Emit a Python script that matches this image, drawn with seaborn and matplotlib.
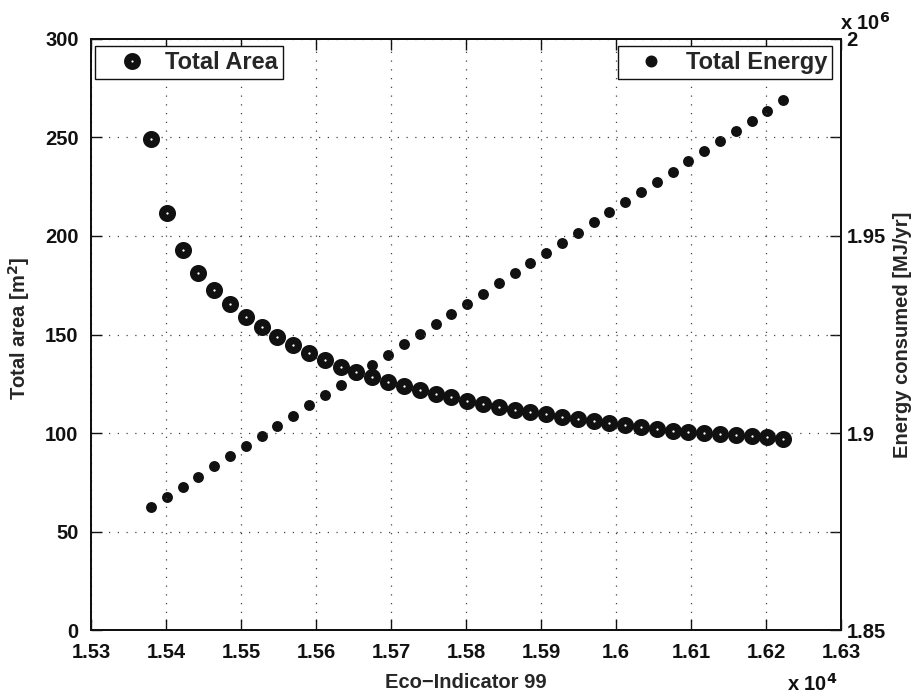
import matplotlib
matplotlib.use("Agg")
import matplotlib.pyplot as plt
from matplotlib.lines import Line2D
from matplotlib.ticker import FixedLocator, FuncFormatter
import seaborn as sns
import pandas as pd

# Eco-Indicator 99 score of each Pareto solution
eco_indicator = [15380.0, 15401.1, 15422.2, 15443.2, 15464.3, 15485.4, 15506.5,
                 15527.5, 15548.6, 15569.7, 15590.8, 15611.8, 15632.9, 15654.0,
                 15675.1, 15696.1, 15717.2, 15738.3, 15759.4, 15780.4, 15801.5,
                 15822.6, 15843.7, 15864.7, 15885.8, 15906.9, 15928.0, 15949.0,
                 15970.1, 15991.2, 16012.3, 16033.3, 16054.4, 16075.5, 16096.6,
                 16117.6, 16138.7, 16159.8, 16180.9, 16201.9, 16223.0]

# Total heat-exchange area [m2]
total_area = [249.1, 211.5, 192.9, 181.1, 172.6, 165.5, 159.0, 153.7, 148.9,
              144.5, 140.8, 137.1, 133.7, 131.1, 128.3, 125.7, 123.7, 121.7,
              119.8, 118.1, 116.2, 114.9, 113.4, 111.8, 110.7, 109.5, 108.3,
              107.1, 105.9, 104.9, 104.0, 102.8, 101.9, 101.2, 100.5, 100.2,
              99.7, 99.0, 98.5, 97.8, 96.9]

# Total energy consumed [MJ/yr]
total_energy = [1881200, 1883780, 1886360, 1888940, 1891520, 1894100, 1896680,
                1899260, 1901840, 1904420, 1907000, 1909580, 1912160, 1914740,
                1917320, 1919900, 1922480, 1925060, 1927640, 1930220, 1932800,
                1935380, 1937960, 1940540, 1943120, 1945700, 1948280, 1950860,
                1953440, 1956020, 1958600, 1961180, 1963760, 1966340, 1968920,
                1971500, 1974080, 1976660, 1979240, 1981820, 1984400]

x_ticks = [15300, 15400, 15500, 15600, 15700, 15800, 15900, 16000, 16100, 16200, 16300]
area_ticks = [0, 50, 100, 150, 200, 250, 300]
energy_ticks = [1850000, 1875000, 1900000, 1925000, 1950000, 1975000, 2000000]
energy_labels = ["1.85", "", "1.9", "", "1.95", "", "2"]

df = pd.DataFrame({"eco": eco_indicator, "area": total_area, "energy": total_energy})

sns.set_theme(style="white")
plt.rcParams["font.family"] = ["Liberation Sans", "DejaVu Sans"]
plt.rcParams["font.weight"] = "bold"
plt.rcParams["axes.labelweight"] = "bold"

INK = "#111111"
FS = 14.5

fig = plt.figure(figsize=(9.12, 6.95), dpi=100)
ax = fig.add_axes([0.0998, 0.0935, 0.8223, 0.8504])
ax2 = ax.twinx()

# energy series on the right-hand axis
sns.scatterplot(data=df, x="eco", y="energy", ax=ax2, marker="o", s=62,
                color=INK, edgecolor=INK, linewidth=0, legend=False, zorder=2)
# area series: thick-edged circles leaving a small white centre
sns.scatterplot(data=df, x="eco", y="area", ax=ax, marker="o", s=50,
                facecolor="white", edgecolor=INK, linewidth=5.2,
                legend=False, zorder=3)
ax.set_zorder(ax2.get_zorder() + 1)
ax.patch.set_visible(False)

ax.set_xlim(15300, 16300)
ax.set_ylim(0, 300)
ax2.set_ylim(1850000, 2000000)

ax.xaxis.set_major_locator(FixedLocator(x_ticks))
ax.xaxis.set_major_formatter(FuncFormatter(lambda v, p: f"{v / 1e4:g}"))
ax.yaxis.set_major_locator(FixedLocator(area_ticks))
ax2.yaxis.set_major_locator(FixedLocator(energy_ticks))
ax2.set_yticklabels(energy_labels)

for a in (ax, ax2):
    for side in a.spines.values():
        side.set_color(INK)
        side.set_linewidth(1.4)

ax.tick_params(axis="x", direction="in", length=8, width=1.0, top=True,
               bottom=True, labelsize=FS, pad=9, colors=INK)
ax.tick_params(axis="y", direction="in", length=8, width=1.0, left=True,
               right=False, labelsize=FS, pad=9, colors=INK)
ax2.tick_params(axis="y", direction="in", length=8, width=1.0, right=True,
                labelsize=FS, pad=4, colors=INK)
for lbl in ax.get_xticklabels() + ax.get_yticklabels() + ax2.get_yticklabels():
    lbl.set_fontweight("bold")

ax.grid(True, color="#444444", linestyle=(0, (1, 6)), linewidth=0.9)
ax2.grid(False)

ax.set_xlabel("Eco\u2212Indicator 99", fontsize=FS, fontweight="bold")
ax.set_ylabel("Total area [m$^\\mathbf{2}$]", fontsize=FS, fontweight="bold")
ax2.set_ylabel("Energy consumed [MJ/yr]", fontsize=FS, fontweight="bold")
ax.xaxis.set_label_coords(0.5, -0.0728)
ax.yaxis.set_label_coords(-0.079, 0.51)
ax2.yaxis.set_label_coords(1.069, 0.5)

fig.text(0.863, 0.0, "x 10$^\\mathbf{4}$", fontsize=FS, fontweight="bold",
         ha="left", va="bottom", color=INK)
fig.text(0.921, 0.952, "x 10$^\\mathbf{6}$", fontsize=FS, fontweight="bold",
         ha="left", va="bottom", color=INK)

area_handle = Line2D([], [], linestyle="none", marker="o", markersize=7.0,
                     markerfacecolor="white", markeredgecolor=INK,
                     markeredgewidth=5.2)
energy_handle = Line2D([], [], linestyle="none", marker="o", markersize=7.6,
                       markerfacecolor=INK, markeredgecolor=INK)

leg1 = ax.legend([area_handle], ["Total Area"], loc="upper left",
                 bbox_to_anchor=(0.005, 0.988), fancybox=False, framealpha=1,
                 edgecolor=INK, prop={"size": 17, "weight": "bold"},
                 borderpad=0.2, handletextpad=0.05, handlelength=2.74,
                 borderaxespad=0.0)
leg1.get_frame().set_linewidth(1.0)
leg2 = ax.legend([energy_handle], ["Total Energy"], loc="upper right",
                 bbox_to_anchor=(0.988, 0.988), fancybox=False, framealpha=1,
                 edgecolor=INK, prop={"size": 17, "weight": "bold"},
                 borderpad=0.2, handletextpad=0.28, handlelength=2.4,
                 borderaxespad=0.0)
leg2.get_frame().set_linewidth(1.0)
ax.add_artist(leg1)

fig.savefig("out.png", dpi=100)
